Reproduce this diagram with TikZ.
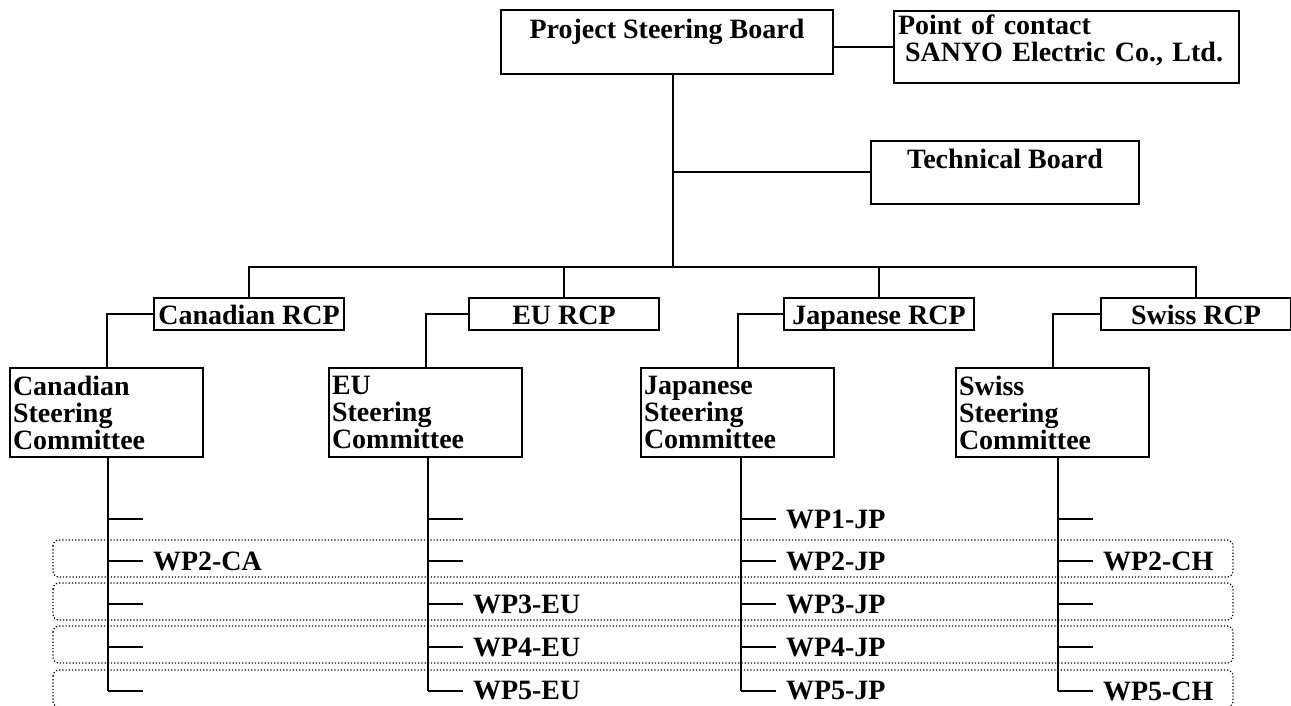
\documentclass[tikz,border=0pt]{standalone}
\usepackage{fontspec}
\setmainfont{Liberation Serif}
\usepackage{tikz}
\usetikzlibrary{
    positioning
}
\newcommand{\orgfont}{\fontsize{14pt}{13.5pt}\selectfont\bfseries}
\tikzset{
    % Box of the chart:
    board node/.style = {
        draw,
        rectangle,
        anchor = north west,
        inner sep = 0pt,
        font = \orgfont
    },
    % Regional coordinator:
    rcp node/.style = {
        board node,
        minimum width = 95pt,
        minimum height = 16pt,
        text height = 13pt,
        text depth = 3pt
    },
    % Steering committee:
    committee node/.style = {
        board node,
        inner xsep = 1.5pt,
        text width = 93.5pt,
        minimum height = 44.5pt,
        align = left
    },
    % Work package:
    wp node/.style = {
        anchor = west,
        inner sep = 0pt,
        font = \orgfont
    },
    group/.style = {
        draw,
        densely dotted,
        line width = 0.6pt,
        rounded corners = 3pt
    }
}

\begin{document}
\begin{tikzpicture}[x=0.5pt, y=-0.5pt, line width=1pt]
    \useasboundingbox (0, 0) rectangle (1291, 706);
    \node (psb) [board node, minimum width=166pt, text height=14.5pt, text depth=17.5pt] at (500, 9) {Project Steering Board};
    \node (poc) [board node, inner xsep=2pt, text width=168.5pt, text height=12pt, text depth=24pt, align=left] at (893, 10) {Point of contact\\\hspace*{0.25em}SANYO Electric Co., Ltd.};
    \node (tb) [board node, minimum width=134pt, text height=14pt, text depth=17.5pt] at (870, 140) {Technical Board};
    \draw (psb.east |- poc.west) -- (poc.west);
    \coordinate (hub) at (673, 267);
    \draw (psb.south -| hub) -- (hub);
    \draw (hub |- tb.west) -- (tb.west);

    \node (can-rcp) [rcp node] at (153, 297) {Canadian RCP};
    \node (eu-rcp) [rcp node] at (468, 297) {EU RCP};
    \node (jp-rcp) [rcp node] at (783, 297) {Japanese RCP};
    \node (ch-rcp) [rcp node] at (1100, 297) {Swiss RCP};

    \node (can-sc) [committee node] at (9, 367) {Canadian\\Steering\\Committee};
    \node (eu-sc) [committee node] at (328, 367) {EU\\Steering\\Committee};
    \node (jp-sc) [committee node] at (640, 367) {Japanese\\Steering\\Committee};
    \node (ch-sc) [committee node] at (955, 367) {Swiss\\Steering\\Committee};

    \foreach \n in {can, eu, jp, ch} {
        \draw (hub) -| (\n-rcp.north);
        \draw (\n-rcp.west) -| (\n-sc.north);
    }

    % Work package rows:
    \foreach \t in {540, 583, 626, 670}
        \draw [group] (53, \t) rectangle (1233, \t+37);

    \foreach \n/\x in {can/108, eu/428, jp/741, ch/1058} {
        \foreach \k/\y in {1/519, 2/561, 3/604, 4/647, 5/691}
            \coordinate (\n-stem\k) at (\x, \y);
        \draw (\n-sc.south -| \n-stem5) -- (\n-stem5);
        \foreach \k in {1, ..., 5}
            \draw (\n-stem\k) -- ++(35, 0);
    }

    \foreach \n/\k/\t in {can/2/CA, eu/3/EU, eu/4/EU, eu/5/EU, jp/1/JP, jp/2/JP, jp/3/JP, jp/4/JP, jp/5/JP, ch/2/CH, ch/5/CH}
        \node (wp\k-\n) [wp node, right=22pt of \n-stem\k] {WP\k-\t};
\end{tikzpicture}
\end{document}
